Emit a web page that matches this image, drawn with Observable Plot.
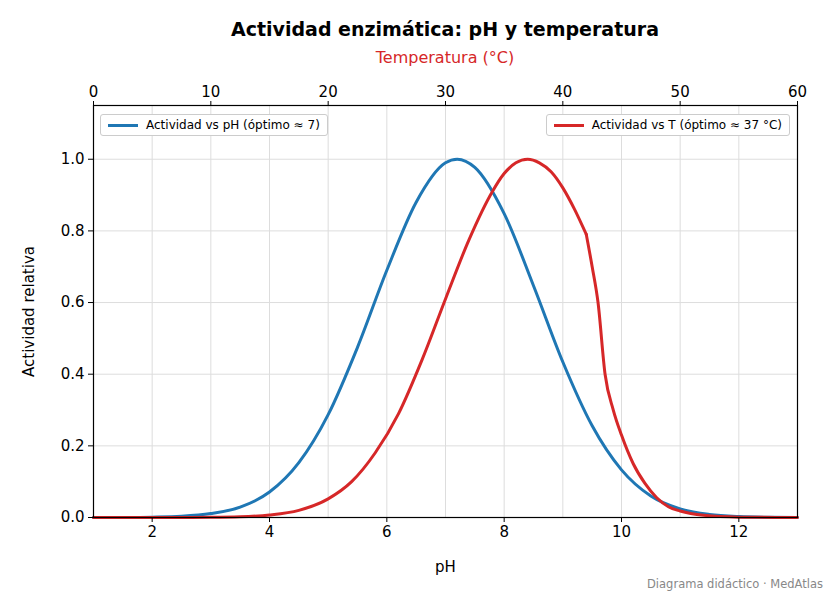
<!DOCTYPE html>
<html><head><meta charset="utf-8">
<script src="https://cdn.jsdelivr.net/npm/d3@7"></script>
<script src="https://cdn.jsdelivr.net/npm/@observablehq/plot@0.6"></script>
<style>
body{margin:0;background:#fff;font-family:"DejaVu Sans",sans-serif}
#wrap{position:relative;width:832px;height:598px}
.ov{position:absolute;white-space:nowrap}
.leg{position:absolute;border:1px solid #ccc;border-radius:3px;background:#fff;font-size:12px;padding:3px 7px;display:flex;align-items:center}
.leg span.sw{display:inline-block;width:30px;height:3px;margin-right:8px}
</style></head><body>
<div id="wrap"></div>
<script>
const phX=[1,1.5,2,2.5,3,3.5,4,4.5,5,5.5,6,6.5,7,7.2,7.5,8,8.5,9,9.5,10,10.5,11,11.5,12,12.5,13];
const phY=[0,0.0002,0.001,0.0034,0.011,0.029,0.071,0.153,0.287,0.475,0.69,0.88,0.99,1,0.977,0.848,0.647,0.434,0.256,0.133,0.06,0.024,0.0085,0.0026,0.0007,0.0002];
const tX=[0,5,10,12.5,15,17.5,20,22,24,26,28,30,32,34,35,36,37,38,39,40,41,42,42.5,43,43.6,44.3,45,46,47,48,49,50,52,55,60];
const tY=[0,0,0.0006,0.002,0.007,0.02,0.052,0.1,0.18,0.29,0.44,0.61,0.775,0.91,0.96,0.99,1,0.99,0.965,0.92,0.86,0.79,0.70,0.6,0.40,0.30,0.23,0.15,0.095,0.055,0.03,0.018,0.006,0.001,0];
const phTicks=[2,4,6,8,10,12];
const tTicks=[0,10,20,30,40,50,60];
const yTicks=[0,0.2,0.4,0.6,0.8,1.0];
const tToPh=t=>1+t/5;
const phData=phX.map((x,i)=>({x,y:phY[i]}));
const tData=tX.map((t,i)=>({x:tToPh(t),y:tY[i]}));
const plot=Plot.plot({
 width:832,height:598,marginTop:105,marginBottom:81,marginLeft:93,marginRight:35,
 style:{fontFamily:"DejaVu Sans, sans-serif",fontSize:"15px",color:"#000"},
 x:{domain:[1,13]},y:{domain:[0,1.15]},
 marks:[
  Plot.gridX(phTicks,{stroke:"#ddd",strokeOpacity:1}),
  Plot.gridX(tTicks.map(tToPh),{stroke:"#ddd",strokeOpacity:1}),
  Plot.gridY(yTicks,{stroke:"#ddd",strokeOpacity:1}),
  Plot.line(phData,{x:"x",y:"y",stroke:"#1f77b4",strokeWidth:3,curve:"monotone-x"}),
  Plot.line(tData.filter(d=>d.y>=0.79||d.x<=tToPh(42)),{x:"x",y:"y",stroke:"#d62728",strokeWidth:3,curve:"monotone-x"}),
  Plot.line(tData.filter(d=>d.x>=tToPh(42)),{x:"x",y:"y",stroke:"#d62728",strokeWidth:3,curve:"monotone-x"}),
  Plot.axisX(phTicks,{anchor:"bottom",tickSize:5,tickPadding:4,label:"pH",labelAnchor:"center",labelArrow:"none",labelOffset:54,fontSize:15}),
  Plot.axisX(tTicks.map(tToPh),{anchor:"top",tickSize:5,tickPadding:4,tickFormat:d=>Math.round((d-1)*5),label:null,fontSize:15}),
  Plot.axisY(yTicks,{tickSize:5,tickFormat:d=>d.toFixed(1),label:"Actividad relativa",labelAnchor:"center",labelArrow:"none",labelOffset:70,fontSize:15}),
  Plot.frame({stroke:"#000",strokeWidth:1.2})
 ]
});
const w=document.getElementById("wrap");
w.appendChild(plot);
w.insertAdjacentHTML("beforeend",`
<div class="ov" style="left:0;width:890px;top:18px;text-align:center;font-weight:bold;font-size:19px">Actividad enzimática: pH y temperatura</div>
<div class="ov" style="left:93px;width:704px;top:48px;text-align:center;color:#d62728;font-size:16px">Temperatura (°C)</div>
<div class="leg" style="left:100px;top:114px"><span class="sw" style="background:#1f77b4"></span>Actividad vs pH (óptimo ≈ 7)</div>
<div class="leg" style="right:42px;top:114px"><span class="sw" style="background:#d62728"></span>Actividad vs T (óptimo ≈ 37 °C)</div>
<div class="ov" style="right:9px;top:577px;color:#888;font-size:11.5px">Diagrama didáctico · MedAtlas</div>`);
</script></body></html>
